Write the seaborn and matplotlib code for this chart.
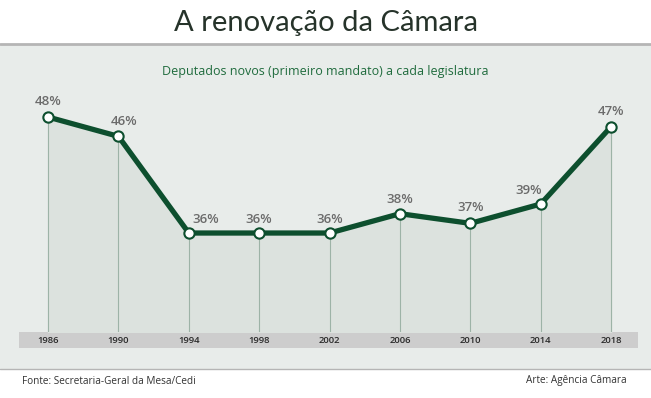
import matplotlib.pyplot as plt
import seaborn as sns
import pandas as pd
from matplotlib.patches import Rectangle
from matplotlib.lines import Line2D

# dados
anos = [1986, 1990, 1994, 1998, 2002, 2006, 2010, 2014, 2018]
novos = [48, 46, 36, 36, 36, 38, 37, 39, 47]
rotulos = ["48%", "46%", "36%", "36%", "36%", "38%", "37%", "39%", "47%"]

df = pd.DataFrame({"ano": anos, "novos": novos})

# deslocamento dos rótulos (em pontos) para não bater na linha
desloc_x = [0, 4, 12, 0, 0, 0, 0, -9, 0]
desloc_y = [11.5, 11, 10, 10, 10, 10, 11.5, 10, 11]

sns.set_style("white")
plt.rcParams['font.family'] = ['Open Sans', 'DejaVu Sans']

verde = "#0d4f2e"
painel = "#e8ecea"

fig = plt.figure(figsize=(6.51, 3.98), dpi=100)
W, H = 651, 398

def fx(px):
    return px / W

def fy(py):
    return 1 - py / H

# painel de fundo
fig.patches.append(Rectangle((0, fy(369)), 1, fy(44) - fy(369), transform=fig.transFigure,
                             facecolor=painel, edgecolor="none", zorder=-10))
fig.lines.append(Line2D([0, 1], [fy(44), fy(44)], transform=fig.transFigure, color="#b5b5b5", lw=2, zorder=-9))
fig.lines.append(Line2D([0, 1], [fy(369), fy(369)], transform=fig.transFigure, color="#b5b5b5", lw=1, zorder=-9))
# faixa do eixo x
fig.patches.append(Rectangle((fx(19), fy(348)), fx(638) - fx(19), fy(332) - fy(348),
                             transform=fig.transFigure, facecolor="#cdcdcd", edgecolor="none", zorder=-9))

fig.text(0.5, fy(23), "A renovação da Câmara", ha="center", va="center",
         fontsize=21, color="#26332a", family=["Lato", "DejaVu Sans"])
fig.text(0.5, fy(72), "Deputados novos (primeiro mandato) a cada legislatura", ha="center", va="center",
         fontsize=9, color="#1f6b3d")
fig.text(fx(22), fy(382), "Fonte: Secretaria-Geral da Mesa/Cedi", ha="left", va="center",
         fontsize=7.2, color="#333333")
fig.text(fx(627), fy(381), "Arte: Agência Câmara", ha="right", va="center",
         fontsize=7.2, color="#333333")

ax = fig.add_axes([fx(19), fy(332), fx(638) - fx(19), fy(60) - fy(332)])
ax.set_zorder(1)
ax.set_facecolor("none")
ymin = 25.76
ax.set_xlim(1984.35, 2019.53)
ax.set_ylim(ymin, 53.9)

ax.fill_between(df["ano"], ymin, df["novos"], color="#dce2de", zorder=1)
ax.vlines(df["ano"], ymin, df["novos"], color="#9db3a7", lw=0.8, zorder=2)
sns.lineplot(data=df, x="ano", y="novos", ax=ax, color=verde, lw=3.8, zorder=3)
sns.scatterplot(data=df, x="ano", y="novos", ax=ax, s=55, color="white",
                edgecolor=verde, linewidth=1.5, zorder=4)

for a, v, r, dx, dy in zip(anos, novos, rotulos, desloc_x, desloc_y):
    ax.annotate(r, (a, v), xytext=(dx, dy), textcoords="offset points", ha="center", va="center",
                fontsize=9.5, fontweight="semibold", color="#6b6b6b")

ax.set_xticks(anos)
ax.set_xticklabels([str(a) for a in anos], fontsize=6.8, fontweight="semibold", color="#2a2a2a")
ax.tick_params(axis="x", length=0, pad=3)
ax.set_yticks([])
ax.set_xlabel("")
ax.set_ylabel("")
sns.despine(ax=ax, left=True, bottom=True)

fig.savefig("out.png", dpi=100)
